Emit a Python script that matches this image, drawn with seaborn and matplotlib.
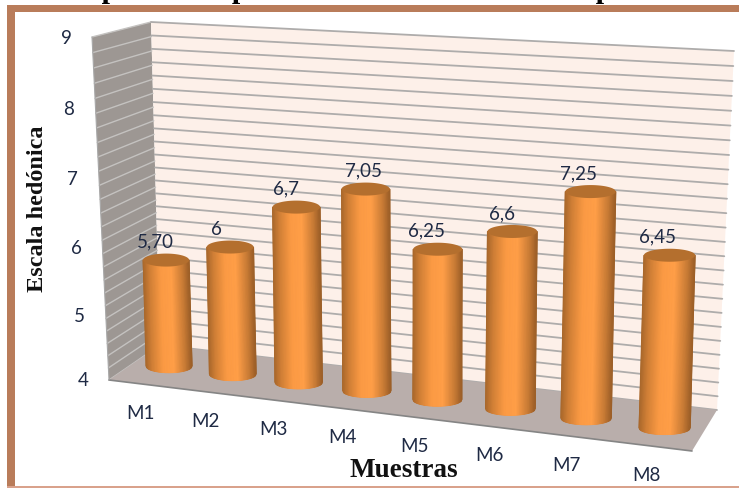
import numpy as np
import pandas as pd
import matplotlib
matplotlib.use("Agg")
import matplotlib.pyplot as plt
from matplotlib.colors import LinearSegmentedColormap
from matplotlib.patches import Polygon, Rectangle
from matplotlib.path import Path
from matplotlib.transforms import IdentityTransform, Transform
import seaborn as sns

# ---------- data ----------
muestras = ["M1", "M2", "M3", "M4", "M5", "M6", "M7", "M8"]
valores = [5.70, 6.0, 6.7, 7.05, 6.25, 6.6, 7.25, 6.45]
etiquetas = ["5,70", "6", "6,7", "7,05", "6,25", "6,6", "7,25", "6,45"]
ticks_y = [4, 5, 6, 7, 8, 9]
titulo = "Valores promedio para el atributo sabor en etapa de cocción"
eje_y = "Escala hedónica"
eje_x = "Muestras"

# ---------- layout (pixels of the 739x489 picture) ----------
W, H = 739, 489
Y0, Y1 = 4, 9
BARS_QUAD = [(138, 363.3), (705, 434.1), (717, 70.7), (128, 46.3)]
BACK_QUAD = [(160, 346), (717, 411), (734, 52), (151, 23)]
SIDE_QUAD = [(109, 381), (160, 346), (151, 23), (92, 38)]
FLOOR_POLY = [(109, 381), (692, 452), (717, 411), (160, 346)]
YTICK_PX = [(83, 381), (79, 316), (76, 249), (72, 180), (69, 110), (66, 38)]
LABEL_DX = [-11, -14, -10, -2, -11, -10, -12, -12]
CAP_PX = 6.5


def homography(src, dst):
    A, b = [], []
    for (x, y), (u, v) in zip(src, dst):
        A.append([x, y, 1, 0, 0, 0, -u * x, -u * y]); b.append(u)
        A.append([0, 0, 0, x, y, 1, -v * x, -v * y]); b.append(v)
    return np.append(np.linalg.solve(np.array(A, float), np.array(b, float)), 1).reshape(3, 3)


class Perspective(Transform):
    """Plane coordinates (x, value) -> display, through the chart's 3D look."""
    input_dims = output_dims = 2

    def __init__(self, x0, x1, quad):
        super().__init__()
        self.M = homography([(x0, Y0), (x1, Y0), (x1, Y1), (x0, Y1)], quad)

    def transform_non_affine(self, pts):
        pts = np.asarray(pts, float)
        p = np.c_[pts, np.ones(len(pts))] @ self.M.T
        return np.c_[p[:, 0] / p[:, 2], H - p[:, 1] / p[:, 2]]

    def transform_path_non_affine(self, path):
        return Path(self.transform_non_affine(path.vertices), path.codes)


sns.set_theme(style="white")
plt.rcParams["font.family"] = ["Lato", "DejaVu Sans"]
fig = plt.figure(figsize=(W / 100, H / 100), dpi=100, facecolor="white")
ax = fig.add_axes([0, 0, 1, 1])

df = pd.DataFrame({"muestra": muestras, "valor": valores})
sns.barplot(data=df, x="muestra", y="valor", ax=ax, color="#e8873a", width=0.655,
            saturation=1, zorder=5)
barras = list(ax.patches)
ax.axis("off")
ov = fig.add_axes([0, 0, 1, 1], zorder=3)
ov.axis("off")

bars_t = Perspective(-0.5, 7.5, BARS_QUAD)
back_t = Perspective(0, 1, BACK_QUAD)
side_t = Perspective(0, 1, SIDE_QUAD)
px_t = IdentityTransform()


def to_disp(poly):
    return [(x, H - y) for x, y in poly]


# frame
fig.add_artist(Rectangle((7 / W, 0), 8 / W, 1 - 6 / H, transform=fig.transFigure,
                         color="#b97c5a", lw=0, zorder=20))
fig.add_artist(Rectangle((7 / W, 1 - 13 / H), 1 - 7 / W, 7 / H, transform=fig.transFigure,
                         color="#b97c5a", lw=0, zorder=20))
fig.add_artist(Rectangle((7 / W, 0), 1 - 7 / W, 2 / H, transform=fig.transFigure,
                         color="#d9a28c", lw=0, zorder=20))

# walls and floor
grid = np.arange(Y0, Y1 + 0.01, 0.2)
unit = [(0, Y0), (1, Y0), (1, Y1), (0, Y1)]
ov.add_patch(Polygon(unit, closed=True, transform=side_t,
                     fc="#9d9793", ec="none", lw=0, zorder=1, clip_on=False))
ov.add_patch(Polygon(unit, closed=True, transform=back_t,
                     fc="#fdf0e9", ec="none", lw=0, zorder=1, clip_on=False))
for g in grid:
    ov.plot([0, 1], [g, g], transform=side_t, color="#c4c2c0", lw=1.0, zorder=2, clip_on=False)
    ov.plot([0, 1], [g, g], transform=back_t, color="#aeacab", lw=1.3, zorder=2, clip_on=False)
ov.add_patch(Polygon(to_disp(FLOOR_POLY), closed=True, transform=px_t,
                     fc="#b9aeab", ec="none", zorder=3, clip_on=False))
ov.plot(*zip(*to_disp(FLOOR_POLY[:2])), transform=px_t, color="#858585", lw=1.2, zorder=3, clip_on=False)
ov.plot(*zip(*to_disp([FLOOR_POLY[0], SIDE_QUAD[3]])), transform=px_t, color="#a8a8a8", lw=0.8, zorder=3, clip_on=False)

# cylinders built from the bars seaborn drew
shade = LinearSegmentedColormap.from_list(
    "cyl", [(0, "#a9682c"), (0.14, "#d07f36"), (0.38, "#fb9a44"), (0.62, "#ff9e47"),
            (0.86, "#c87b35"), (1, "#9c5f28")])
for i, patch in enumerate(barras):
    x, w, v = patch.get_x(), patch.get_width(), patch.get_height()
    patch.set_visible(False)
    cx = x + w / 2
    top = bars_t.transform(np.array([[cx, v]]))[0]
    bot = bars_t.transform(np.array([[cx, Y0]]))[0]
    half = 23 + 0.37 * i
    u = np.linspace(-1, 1, 61)
    X = np.vstack([bot[0] + u * half, top[0] + u * half])
    Y = np.vstack([bot[1] - CAP_PX * np.sqrt(1 - u * u), np.full_like(u, top[1])])
    C = np.vstack([(u + 1) / 2, (u + 1) / 2])
    ov.pcolormesh(X, Y, C, shading="gouraud", cmap=shade, vmin=0, vmax=1,
                  transform=px_t, zorder=6, clip_on=False)
    t = np.linspace(0, 2 * np.pi, 80)
    ov.add_patch(Polygon(np.c_[top[0] + half * np.cos(t), top[1] + CAP_PX * np.sin(t)], closed=True,
                         transform=px_t, fc="#b46f2e", ec="none", zorder=7, clip_on=False))
    ov.annotate(etiquetas[i], xy=(cx, v), xycoords=bars_t, xytext=(LABEL_DX[i], 19),
                textcoords="offset pixels", ha="center", va="center", fontsize=13.5,
                color="#1f2a44", zorder=8, annotation_clip=False)
    ov.annotate(muestras[i], xy=(cx, Y0), xycoords=bars_t, xytext=(-28.5 + 1.5 * i, -46),
                textcoords="offset pixels", ha="center", va="center", fontsize=13.5,
                color="#1f2a44", zorder=8, annotation_clip=False)

ax.set_xlim(-0.5, 7.5)
ax.set_ylim(Y0, Y1)

# value axis labels
for tick, (px, py) in zip(ticks_y, YTICK_PX):
    fig.text(px / W, 1 - py / H, str(tick), ha="center", va="center", fontsize=13.5, color="#1f2a44")

serif = ["Liberation Serif", "DejaVu Serif"]
fig.text(38 / W, 1 - 209 / H, eje_y, rotation=90, ha="center", va="center", fontsize=17.5,
         fontweight="bold", family=serif, color="#111111")
fig.text(404 / W, 1 - 471 / H, eje_x, ha="center", va="center", fontsize=19.5,
         fontweight="bold", family=serif, color="#111111")
fig.text(-1 / W, 1 + 2.5 / H, titulo, ha="left", va="baseline", fontsize=21.6,
         fontweight="bold", family=serif, color="#000000")

fig.savefig("out.png", dpi=100, facecolor="white")
